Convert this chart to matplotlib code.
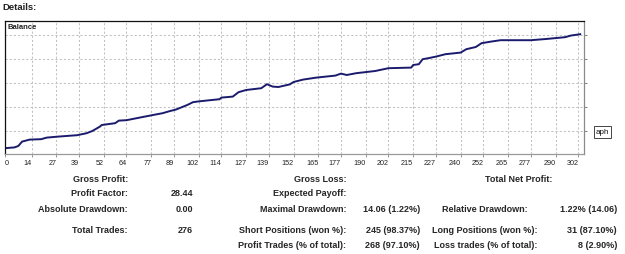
import matplotlib
matplotlib.use("Agg")
import matplotlib.pyplot as plt

plt.rcParams['font.family'] = ['Liberation Sans', 'DejaVu Sans']

# balance curve (trade index, balance)
trade_no = [0, 5, 7, 9, 13, 19, 22, 28, 38, 43, 46, 50, 51, 58, 60, 64, 72, 78,
            83, 87, 90, 96, 99, 102, 113, 114, 120, 123, 127, 135, 138, 141, 144,
            150, 152, 157, 164, 174, 177, 180, 185, 195, 202, 214, 215, 218, 220,
            223, 227, 232, 240, 243, 248, 251, 256, 261, 277, 285, 295, 298, 303]
balance = [1014, 1018, 1025, 1047, 1057, 1059, 1067, 1072, 1079, 1089, 1100, 1122,
           1130, 1139, 1152, 1154, 1169, 1180, 1189, 1200, 1207, 1230, 1244, 1248,
           1259, 1267, 1272, 1294, 1305, 1314, 1334, 1322, 1320, 1333, 1345, 1357,
           1367, 1377, 1387, 1380, 1389, 1400, 1414, 1417, 1430, 1434, 1459, 1464,
           1472, 1484, 1492, 1509, 1520, 1539, 1547, 1554, 1554, 1560, 1569, 1577,
           1584]

x_ticks = [0, 14, 27, 39, 52, 64, 77, 89, 102, 114, 127, 139, 152, 165, 177,
           190, 202, 215, 227, 240, 252, 265, 277, 290, 302]
y_grid = [1100, 1220, 1340, 1460, 1580]

# statistics block under the chart
col1_labels = ["Gross Profit:", "Profit Factor:", "Absolute Drawdown:", "Total Trades:"]
col1_values = ["", "28.44", "0.00", "276"]
col2_labels = ["Gross Loss:", "Expected Payoff:", "Maximal Drawdown:",
               "Short Positions (won %):", "Profit Trades (% of total):"]
col2_values = ["", "", "14.06 (1.22%)", "245 (98.37%)", "268 (97.10%)"]
col3_labels = ["Total Net Profit:", "", "Relative Drawdown:",
               "Long Positions (won %):", "Loss trades (% of total):"]
col3_values = ["", "", "1.22% (14.06)", "31 (87.10%)", "8 (2.90%)"]

W, H = 625, 254
fig = plt.figure(figsize=(W / 100, H / 100), dpi=100, facecolor='white')


def fx(px):
    return px / W


def fy(py):
    return 1 - py / H


ax = fig.add_axes([fx(5), fy(154), 579 / W, 133 / H])
ax.plot(trade_no, balance, color='#1b1b6e', linewidth=1.4, solid_joinstyle='round')
ax.set_xlim(0, 305)
ax.set_ylim(985, 1650)

ax.set_xticks(x_ticks)
ax.set_xticklabels([str(t) for t in x_ticks], fontsize=5.2, color='#222222')
for i, lab in enumerate(ax.get_xticklabels()):
    lab.set_ha('left' if i == 0 else 'right')
ax.set_yticks(y_grid)
ax.set_yticklabels([])
ax.yaxis.tick_right()
ax.tick_params(axis='x', direction='out', length=2.5, width=0.6, color='#888888', pad=1.5)
ax.tick_params(axis='y', direction='out', length=2.5, width=0.6, color='#666666')
ax.grid(True, color='#c0c0c0', linestyle=(0, (2, 2)), linewidth=0.75)

ax.spines['left'].set_color('#111111')
ax.spines['top'].set_color('#111111')
ax.spines['right'].set_color('#8a8a8a')
ax.spines['bottom'].set_color('#9a9a9a')
for s in ax.spines.values():
    s.set_linewidth(0.9)

ax.text(0.005, 0.95, 'Balance', transform=ax.transAxes, fontsize=5.5,
        fontweight='bold', color='#222222', ha='left', va='center')

fig.text(fx(2), fy(8), 'Details:', fontsize=6.8, fontweight='bold',
         color='#222222', ha='left', va='center')

# clipped "Graph" button on the right
fig.text(fx(596), fy(132), 'aph', fontsize=5.8, color='#111111', ha='left', va='center',
         bbox=dict(boxstyle='square,pad=0.25', facecolor='white', edgecolor='#444444',
                   linewidth=0.7))

rows = [179.5, 194, 209, 230.5, 246]
st = dict(fontsize=6.5, fontweight='bold', color='#262626', va='center', ha='right')
for i, (lab, val) in enumerate(zip(col1_labels, col1_values)):
    fig.text(fx(128), fy(rows[i]), lab, **st)
    fig.text(fx(193), fy(rows[i]), val, **st)
for i, (lab, val) in enumerate(zip(col2_labels, col2_values)):
    fig.text(fx(346), fy(rows[i]), lab, **st)
    fig.text(fx(420), fy(rows[i]), val, **st)
col3_right = [552, 0, 528, 537, 537]
for i, (lab, val) in enumerate(zip(col3_labels, col3_values)):
    if lab:
        fig.text(fx(col3_right[i]), fy(rows[i]), lab, **st)
    if val:
        fig.text(fx(617), fy(rows[i]), val, **st)

fig.savefig('out.png', dpi=100, facecolor='white')
plt.close(fig)
